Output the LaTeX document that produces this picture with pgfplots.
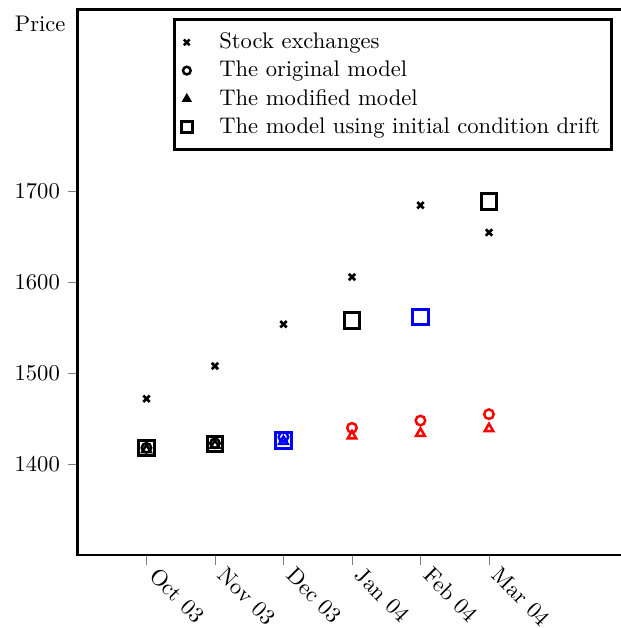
\documentclass[border=0pt]{standalone}
\usepackage{pgfplots}
\pgfplotsset{compat=1.18}
\begin{document}
\begin{tikzpicture}
\useasboundingbox (-34.5pt,-32.3pt) rectangle (240.3pt,245.6pt);
\begin{axis}[
  at={(0,0)}, anchor=south west,
  width=242.5pt, height=241.2pt, scale only axis,
  xmin=-1, xmax=7, ymin=1300, ymax=1900,
  xtick={0,1,2,3,4,5},
  xticklabels={Oct 03,Nov 03,Dec 03,Jan 04,Feb 04,Mar 04},
  ytick={1400,1500,1600,1700},
  yticklabel style={/pgf/number format/1000 sep={}},
  xtick pos=bottom, ytick pos=left,
  tick align=outside,
  major tick length=4.5pt,
  tick style={gray, thin},
  axis line style={black, line width=1.3pt},
  xticklabel style={xshift=2.3pt, yshift=-2pt, rotate=-45, anchor=west, inner sep=1pt},
  every axis y label/.style={at={(rel axis cs:0,1)}, anchor=north east, xshift=-2pt, yshift=1pt},
  ylabel={Price},
  legend style={at={(0.976,0.985)}, anchor=north east, draw=black, line width=1.3pt,
    inner xsep=3pt, inner ysep=3.8pt, column sep=10pt},
  legend cell align=left,
  clip=false,
]
\addlegendimage{only marks, mark=x, mark size=1.8pt, line width=1.1pt, black}
\addlegendentry{Stock exchanges}
\addlegendimage{only marks, mark=o, mark size=1.7pt, line width=1.1pt, black}
\addlegendentry{The original model}
\addlegendimage{only marks, mark=triangle*, mark size=1.8pt, line width=0.8pt, black}
\addlegendentry{The modified model}
\addlegendimage{only marks, mark=square, mark size=2.4pt, line width=1.2pt, black}
\addlegendentry{The model using initial condition drift}

% original model (circles)
\addplot[forget plot, only marks, mark=o, mark size=2.1pt, line width=1.1pt, black] coordinates {(0,1418) (1,1423)};
\addplot[forget plot, only marks, mark=o, mark size=2.1pt, line width=1.1pt, blue] coordinates {(2,1430)};
\addplot[forget plot, only marks, mark=o, mark size=2.1pt, line width=1.1pt, red] coordinates {(3,1440) (4,1448) (5,1455)};
% modified model (triangles)
\addplot[forget plot, only marks, mark=triangle, mark size=2.2pt, line width=1.1pt, black] coordinates {(0,1416) (1,1421)};
\addplot[forget plot, only marks, mark=triangle, mark size=2.2pt, line width=1.1pt, blue] coordinates {(2,1425)};
\addplot[forget plot, only marks, mark=triangle, mark size=2.2pt, line width=1.1pt, red] coordinates {(3,1431) (4,1434) (5,1439)};
% initial condition drift (squares)
\addplot[forget plot, only marks, mark=square, mark size=3.4pt, line width=1.3pt, black] coordinates {(0,1418) (1,1422) (3,1558) (5,1689)};
\addplot[forget plot, only marks, mark=square, mark size=3.4pt, line width=1.3pt, blue] coordinates {(2,1426) (4,1562)};
% stock exchanges
\addplot[forget plot, only marks, mark=x, mark size=2pt, line width=1.2pt, black] coordinates {(0,1472) (1,1508) (2,1554) (3,1606) (4,1685) (5,1655)};
\end{axis}
\end{tikzpicture}
\end{document}
